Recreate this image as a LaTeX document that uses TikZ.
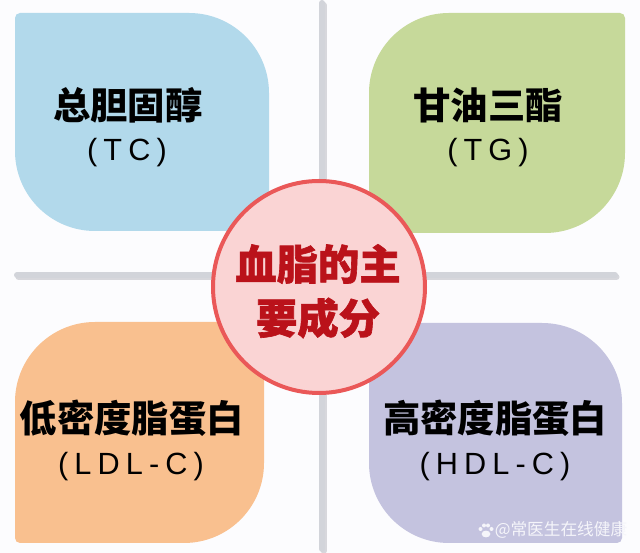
\documentclass[tikz,border=0pt]{standalone}
\usepackage{fontspec}
\newfontfamily\cjk{Noto Sans CJK SC}
\newfontfamily\cjkheavy{Noto Sans CJK SC}[FakeBold=1.5]
\newfontfamily\lat{Liberation Sans}[LetterSpace=20]
\definecolor{bgc}{RGB}{252,252,254}
\definecolor{cblue}{RGB}{178,217,235}
\definecolor{cgreen}{RGB}{198,217,154}
\definecolor{corange}{RGB}{249,192,143}
\definecolor{cpurple}{RGB}{196,195,223}
\definecolor{cgray}{RGB}{210,212,218}
\definecolor{cgshadow}{RGB}{170,172,180}
\definecolor{cpink}{RGB}{250,212,212}
\definecolor{cred}{RGB}{234,88,88}
\definecolor{ctext}{RGB}{186,18,26}
\definecolor{cwm}{RGB}{245,245,250}
\newcommand\leafTRBL[5]{\fill[#5] ({#1+80},#2) -- ({#3-5},#2) arc[start angle=-90,end angle=0,radius=5] -- (#3,{#4-80}) arc[start angle=0,end angle=90,radius=80] -- ({#1+5},#4) arc[start angle=90,end angle=180,radius=5] -- (#1,{#2+80}) arc[start angle=180,end angle=270,radius=80] -- cycle;}
\newcommand\leafTLBR[5]{\fill[#5] ({#1+5},#2) -- ({#3-80},#2) arc[start angle=-90,end angle=0,radius=80] -- (#3,{#4-5}) arc[start angle=0,end angle=90,radius=5] -- ({#1+80},#4) arc[start angle=90,end angle=180,radius=80] -- (#1,{#2+5}) arc[start angle=180,end angle=270,radius=5] -- cycle;}
\begin{document}
\begin{tikzpicture}[x=0.75pt,y=0.75pt,
  title/.style={font=\cjk\bfseries\fontsize{28}{30}\selectfont, text=black, inner sep=0},
  abbr/.style={font=\lat\fontsize{23}{25}\selectfont, text=black, inner sep=0},
  gline/.style={line width=4.5pt, draw=cgray, line cap=round},
  gshadow/.style={line width=4.5pt, draw=cgshadow, opacity=0.45, line cap=round},
  core/.style={font=\cjkheavy\bfseries\fontsize{31}{33}\selectfont, text=ctext, inner sep=0},
  wmark/.style={font=\cjk\fontsize{12.5}{14}\selectfont, text=cwm, inner sep=0}]
\fill[bgc] (0,0) rectangle (640,553);
\useasboundingbox (0,0) rectangle (640,553);
% cross lines
\coordinate (vt) at (322,550); \coordinate (vb) at (322,4);
\coordinate (hl) at (17,278); \coordinate (hr) at (615,278);
\draw[gshadow] ([shift={(1.5,-2)}]vt) -- ([shift={(1.5,-2)}]vb);
\draw[gshadow] ([shift={(1.5,-2)}]hl) -- ([shift={(1.5,-2)}]hr);
\draw[gline] (vt) -- (vb);
\draw[gline] (hl) -- (hr);
% boxes
\leafTRBL{15}{322}{269}{540}{cblue}
\leafTLBR{369}{320}{625}{540}{cgreen}
\leafTLBR{15}{10}{264}{231}{corange}
\leafTRBL{369}{10}{622}{230}{cpurple}
% box texts
\node[title] (tc) at (128,448) {总胆固醇};
\node[abbr] (tca) at (127,400) {(TC)};
\node[title] (tg) at (488,448) {甘油三酯};
\node[abbr] (tga) at (488,400) {(TG)};
\node[title] (ldl) at (132,135) {低密度脂蛋白};
\node[abbr] (ldla) at (131,86) {(LDL-C)};
\node[title] (hdl) at (495,135) {高密度脂蛋白};
\node[abbr] (hdla) at (495,86) {(HDL-C)};
% centre circle
\node[circle, draw=cred, line width=3pt, fill=cpink, minimum size=159pt, inner sep=0] (ring) at (319,266) {};
\node[core] (c1) at (318,289) {血脂的主};
\node[core] (c2) at (318,235) {要成分};
% watermark
\node[wmark] (wm) at (561,23) {@常医生在线健康};
\begin{scope}[shift={(486,22)}]
\fill[cwm] (0,-3) ellipse[x radius=4.4, y radius=3.4];
\foreach \p in {(-5.5,2),(-2,5.5),(2,5.5),(5.5,2)} \fill[cwm] \p circle[radius=2];
\end{scope}
\end{tikzpicture}
\end{document}
